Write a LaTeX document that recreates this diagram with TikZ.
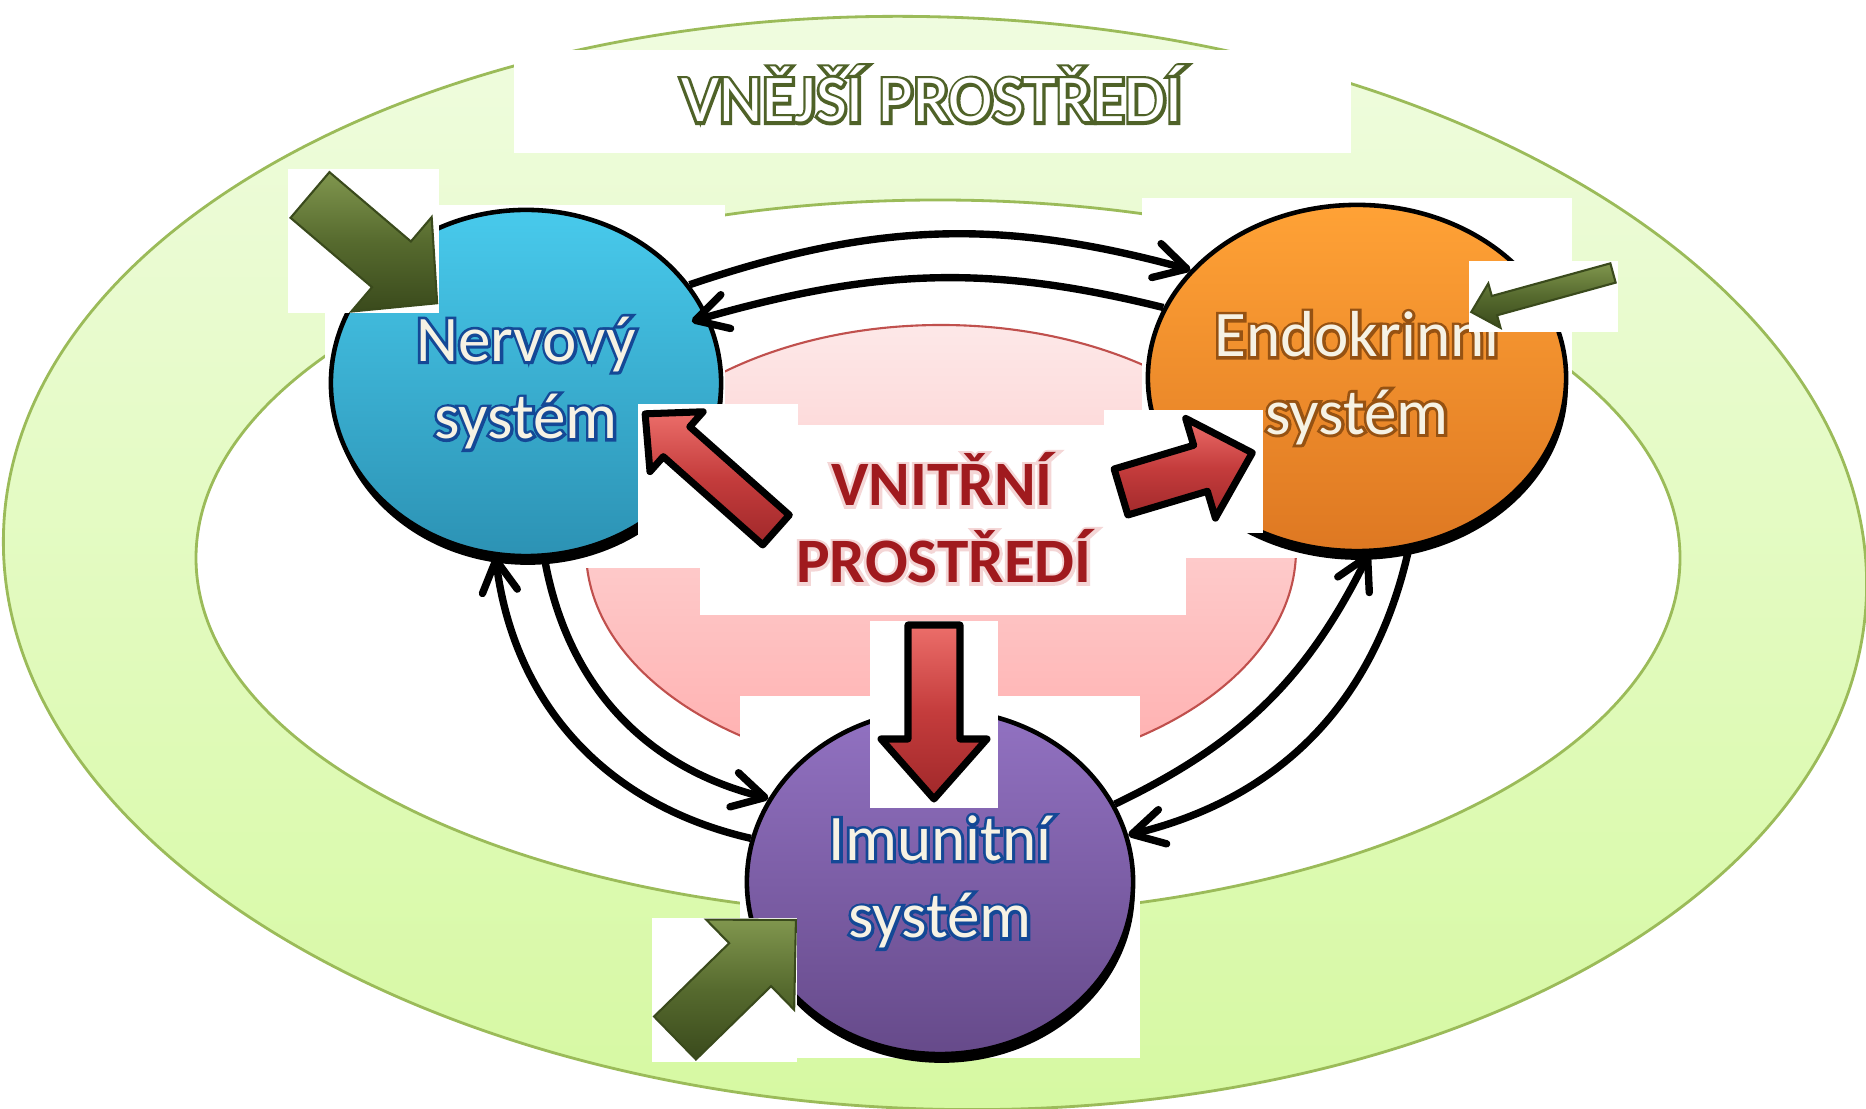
\documentclass[tikz,border=0pt]{standalone}
\usepackage{fontspec}
\setmainfont{Carlito}
\newfontfamily\strokefont[FakeBold=9]{Carlito}
\usetikzlibrary{shapes.geometric, arrows.meta, shadows}
\definecolor{RingGreen}{RGB}{155, 187, 89}
\definecolor{RingTop}{RGB}{240, 252, 224}
\definecolor{RingBottom}{RGB}{214, 249, 162}
\definecolor{PinkTop}{RGB}{253, 232, 232}
\definecolor{PinkBottom}{RGB}{255, 174, 174}
\definecolor{PinkLine}{RGB}{192, 80, 77}
\definecolor{NervTop}{RGB}{72, 202, 236}
\definecolor{NervBottom}{RGB}{44, 146, 180}
\definecolor{EndoTop}{RGB}{255, 162, 54}
\definecolor{EndoBottom}{RGB}{222, 120, 34}
\definecolor{ImunTop}{RGB}{146, 114, 194}
\definecolor{ImunBottom}{RGB}{102, 74, 138}
\definecolor{OliveLight}{RGB}{128, 150, 78}
\definecolor{Olive}{RGB}{86, 106, 46}
\definecolor{OliveDark}{RGB}{58, 74, 28}
\definecolor{RedLight}{RGB}{236, 110, 106}
\definecolor{ArrowRed}{RGB}{196, 60, 60}
\definecolor{RedDark}{RGB}{160, 40, 42}
\definecolor{TextRed}{RGB}{160, 26, 30}
\definecolor{GlowPink}{RGB}{244, 214, 214}
\definecolor{TextBlue}{RGB}{20, 72, 150}
\definecolor{TextBrown}{RGB}{150, 82, 18}
\definecolor{Cream}{RGB}{246, 242, 228}
\definecolor{TitleOlive}{RGB}{79, 98, 40}

% text with a coloured rim: stroked copy underneath, plain copy on top
\newcommand{\rimmed}[2]{\rlap{\strokefont\color{#1}#2}#2}

% block arrow: style, tail, angle, length, shaft half width, head half width, head length
\newcommand{\blockarrow}[7]{%
  \draw[#1, shift={(#2)}, rotate=#3] (0,-#5) -- (#4-#7,-#5) -- (#4-#7,-#6) -- (#4,0)
    -- (#4-#7,#6) -- (#4-#7,#5) -- (0,#5) -- cycle;}

\begin{document}
\begin{tikzpicture}[x=0.01cm, y=0.01cm,
    sysnode/.style={ellipse, draw=black, line width=1.3pt, inner sep=0pt, align=center,
      text=Cream, font=\fontsize{18.5}{22}\selectfont,
      drop shadow={shadow xshift=0.5pt, shadow yshift=-2.5pt, fill=black, opacity=1}},
    greenarrow/.style={draw=OliveDark, line width=0.6pt, top color=OliveLight,
      bottom color=OliveDark, middle color=Olive},
    redarrow/.style={draw=black, line width=2pt, line join=round, top color=RedLight,
      bottom color=RedDark, middle color=ArrowRed},
    link/.style={line width=2.1pt, -{Straight Barb[length=9pt, width=10pt, round]}}]
    \useasboundingbox (0,0) rectangle (1866,1109);
    \clip (0,0) rectangle (1866,1109);

    % outer environment ring
    \draw[RingGreen, line width=0.8pt, top color=RingTop, bottom color=RingBottom,
      rotate around={-2:(935,546)}] (935,546) ellipse (932 and 546);
    \draw[RingGreen, line width=0.8pt, fill=white] (938,551) ellipse (742 and 358);

    % inner environment
    \draw[PinkLine, line width=0.6pt, top color=PinkTop, bottom color=PinkBottom]
      (941,559) ellipse (355 and 225);

    % white backgrounds
    \fill[white] (514,956) rectangle (1351,1059);
    \fill[white] (325,541) rectangle (725,904);
    \fill[white] (1142,551) rectangle (1572,911);
    \fill[white] (740,51) rectangle (1140,413);

    % systems
    \node[sysnode, top color=NervTop, bottom color=NervBottom, minimum width=3.9cm,
      minimum height=3.46cm] (nerv) at (526,726)
      {\rimmed{TextBlue}{Nervový}\\\rimmed{TextBlue}{systém}};
    \node[sysnode, top color=EndoTop, bottom color=EndoBottom, minimum width=4.18cm,
      minimum height=3.46cm] (endo) at (1357,731)
      {\rimmed{TextBrown}{Endokrinní}\\\rimmed{TextBrown}{systém}};
    \node[sysnode, top color=ImunTop, bottom color=ImunBottom, minimum width=3.86cm,
      minimum height=3.44cm] (imun) at (940,227)
      {\rimmed{TextBlue}{Imunitní}\\\rimmed{TextBlue}{systém}};

    % arrow backgrounds
    \fill[white] (700,494) rectangle (1186,684);
    \fill[white] (638,541) rectangle (798,705);
    \fill[white] (1104,576) rectangle (1263,699);
    \fill[white] (870,301) rectangle (998,488);
    \fill[white] (288,796) rectangle (439,940);
    \fill[white] (1469,777) rectangle (1618,848);
    \fill[white] (652,47) rectangle (797,191);

    % arrows from the outside
    \blockarrow{greenarrow}{310,914}{-40.4}{167}{30}{62}{60}
    \blockarrow{greenarrow}{675,71}{44.3}{169}{30}{63}{64}
    \blockarrow{greenarrow}{1613,836}{195.4}{147}{10}{23}{24}

    % arrows from the inside
    \blockarrow{redarrow}{776,579}{138.4}{175}{20}{40}{42}
    \blockarrow{redarrow}{1121,617}{16.6}{137}{24}{52}{54}
    \blockarrow{redarrow}{934,484}{-90}{174}{26}{53}{60}

    % links between the systems
    \draw[link] (nerv.31) to[bend left=17] (endo.147);
    \draw[link, shorten >=-5pt] (endo.160) to[bend right=15] (nerv.20);
    \draw[link] (imun.167) to[bend left=35] (nerv.260);
    \draw[link] (nerv.276) to[bend right=33] (imun.154);
    \draw[link] (imun.24) to[bend right=19] (endo.274);
    \draw[link] (endo.287) to[bend left=32] (imun.14);

    % labels
    \node[anchor=base, text=white, font=\fontsize{19}{22}\selectfont] (vnejsi)
      at (932,987) {\rimmed{TitleOlive}{VNĚJŠÍ PROSTŘEDÍ}};
    \node[anchor=base, text=TextRed, font=\bfseries\fontsize{18}{22}\selectfont] (vnitrni)
      at (942,603) {\rimmed{GlowPink}{VNITŘNÍ}};
    \node[anchor=base, text=TextRed, font=\bfseries\fontsize{18}{22}\selectfont] (prostredi)
      at (944,526) {\rimmed{GlowPink}{PROSTŘEDÍ}};
\end{tikzpicture}
\end{document}
